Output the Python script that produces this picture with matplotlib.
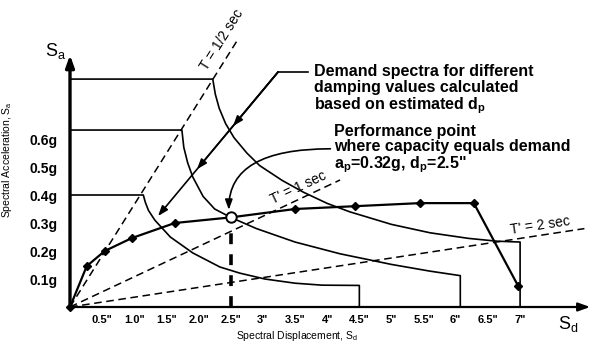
import numpy as np
import matplotlib.pyplot as plt

plt.rcParams['font.family'] = ['Liberation Sans', 'DejaVu Sans']
plt.rcParams['mathtext.fontset'] = 'custom'
plt.rcParams['mathtext.rm'] = 'Liberation Sans'
plt.rcParams['mathtext.bf'] = 'Liberation Sans:bold'
plt.rcParams['mathtext.it'] = 'Liberation Sans:italic'

# capacity curve in ADRS format (Sd in inches, Sa in g)
cap_sd = [0, 0.26, 0.54, 0.96, 1.63, 2.5, 3.5, 4.43, 5.44, 6.28, 6.97]
cap_sa = [0, 0.146, 0.20, 0.246, 0.30, 0.32, 0.35, 0.36, 0.371, 0.371, 0.075]

# performance point
perf_sd, perf_sa = 2.5, 0.32

# demand spectra for three damping levels
dem_hi_sd = [0, 2.22, 2.26, 2.32, 2.42, 2.55, 2.75, 2.95, 3.3, 3.63, 4.0,
             4.35, 5.0, 5.6, 6.2, 6.64, 7.0, 7.0]
dem_hi_sa = [0.814, 0.814, 0.76, 0.71, 0.655, 0.605, 0.55, 0.505, 0.452,
             0.41, 0.37, 0.34, 0.295, 0.265, 0.245, 0.235, 0.232, 0]
dem_mid_sd = [0, 1.74, 1.77, 1.83, 1.91, 2.07, 2.25, 2.5, 2.9, 3.5, 4.2,
              5.0, 5.6, 6.07, 6.07]
dem_mid_sa = [0.632, 0.632, 0.57, 0.515, 0.464, 0.395, 0.35, 0.32, 0.28,
              0.232, 0.19, 0.152, 0.128, 0.112, 0]
dem_lo_sd = [0, 1.14, 1.17, 1.22, 1.32, 1.56, 1.91, 2.33, 2.64, 3.03, 3.5,
             3.92, 4.5, 4.5]
dem_lo_sa = [0.40, 0.40, 0.375, 0.345, 0.31, 0.25, 0.193, 0.143, 0.121,
             0.10, 0.085, 0.078, 0.077, 0]

# constant period lines: Sa/Sd slope (g per inch) and how far each runs
period_text = ['T = 1/2 sec', "T' = 1 sec", "T' = 2 sec"]
period_slope = [0.366, 0.108, 0.035]
period_end_sd = [2.6, 4.2, 8.0]
period_text_pos = [(2.36, 0.955), (3.55, 0.428), (7.31, 0.291)]

sd_ticks = [0.5, 1.0, 1.5, 2.0, 2.5, 3, 3.5, 4, 4.5, 5, 5.5, 6, 6.5, 7]
sd_tick_labels = ['0.5"', '1.0"', '1.5"', '2.0"', '2.5"', '3"', '3.5"', '4"',
                  '4.5"', '5"', '5.5"', '6"', '6.5"', '7"']
sa_ticks = [0.1, 0.2, 0.3, 0.4, 0.5, 0.6]
sa_tick_labels = ['0.1g', '0.2g', '0.3g', '0.4g', '0.5g', '0.6g']

fig = plt.figure(figsize=(5.94, 3.42), dpi=100)
ax = fig.add_axes([70 / 594, 35 / 342, 524 / 594, 307 / 342])
ax.set_xlim(0, 524 / 64.3)
ax.set_ylim(0, 307 / 280)
for s in ax.spines.values():
    s.set_visible(False)

ax.set_xticks(sd_ticks)
ax.set_xticklabels(sd_tick_labels, fontsize=8, fontweight='bold')
ax.set_yticks(sa_ticks)
ax.set_yticklabels(sa_tick_labels, fontsize=10, fontweight='bold')
ax.tick_params(axis='x', length=0, pad=6)
ax.tick_params(axis='y', length=0, pad=9)

# axes drawn as arrows
ax.annotate('', xy=(0, 0.9), xytext=(0, 0), annotation_clip=False,
            arrowprops=dict(arrowstyle='-|>,head_length=0.7,head_width=0.25',
                            lw=2.4, color='k', shrinkA=0, shrinkB=0,
                            mutation_scale=10))
ax.annotate('', xy=(8.09, 0), xytext=(0, 0), annotation_clip=False,
            arrowprops=dict(arrowstyle='-|>,head_length=0.7,head_width=0.25',
                            lw=1.6, color='k', shrinkA=0, shrinkB=0,
                            mutation_scale=10))
ax.text(-0.23, 0.915, r'S$_\mathregular{a}$', fontsize=13, ha='center', va='center')
ax.text(7.75, -0.06, r'S$_\mathregular{d}$', fontsize=13, ha='center', va='center')

ax.set_ylabel(r'Spectral Acceleration, S$_\mathregular{a}$', fontsize=7.5)
ax.yaxis.set_label_coords(-0.107, 0.48)
ax.set_xlabel(r'Spectral Displacement, S$_\mathregular{d}$', fontsize=7.5)
ax.xaxis.set_label_coords(0.433, -0.071)

# period lines
for txt, k, end, pos in zip(period_text, period_slope, period_end_sd, period_text_pos):
    xs = np.array([0, end])
    ax.plot(xs, k * xs, color='k', lw=1.1, ls=(0, (5, 3)))
    p0 = ax.transData.transform((0, 0))
    p1 = ax.transData.transform((1, k))
    ang = np.degrees(np.arctan2(p1[1] - p0[1], p1[0] - p0[0]))
    ax.text(pos[0], pos[1], txt, fontsize=10, rotation=ang, ha='center',
            va='center', rotation_mode='anchor')

# demand spectra
for sd, sa in [(dem_hi_sd, dem_hi_sa), (dem_mid_sd, dem_mid_sa), (dem_lo_sd, dem_lo_sa)]:
    ax.plot(sd, sa, color='k', lw=1.2)

# capacity curve
perf_idx = cap_sd.index(perf_sd)
marks = [i for i in range(len(cap_sd)) if i != perf_idx]
ax.plot(cap_sd, cap_sa, color='k', lw=1.6, marker='D', markersize=4.5,
        markevery=marks, zorder=4, clip_on=False)

# drop line from the performance point
ax.plot([perf_sd, perf_sd], [0, perf_sa - 0.035], color='k', lw=2.6,
        ls=(0, (3, 2.8)), zorder=3)
ax.plot(perf_sd, perf_sa, marker='o', markersize=7.5, mfc='white',
        mec='k', mew=1.4, zorder=5)

head = dict(arrowstyle='-|>,head_length=0.6,head_width=0.22', color='k',
            lw=1.2, shrinkA=0, shrinkB=0, mutation_scale=10)

# leader for the demand spectra note: one straight line, arrowhead at each spectrum
lead_start = np.array([3.235, 0.839])
lead_end = np.array([1.369, 0.325])
ax.plot([lead_start[0], 3.70], [lead_start[1], lead_start[1]], color='k', lw=1.2)
for t in [0.375, 0.675, 1.0]:
    ax.annotate('', xy=lead_start + t * (lead_end - lead_start), xytext=lead_start,
                arrowprops=head)
ax.text(3.795, 0.775,
        'Demand spectra for different\ndamping values calculated\n'
        r'based on estimated d$_\mathbf{p}$',
        fontsize=11.5, fontweight='bold', ha='left', va='center', linespacing=1.05)

# leader for the performance point note
ax.annotate('', xy=(2.47, 0.347), xytext=(4.05, 0.565),
            arrowprops=dict(head, connectionstyle='angle3,angleA=0,angleB=90'))
ax.text(4.106, 0.562,
        'Performance point\nwhere capacity equals demand\n'
        r'a$_\mathbf{p}$=0.32g, d$_\mathbf{p}$=2.5"',
        fontsize=11.5, fontweight='bold', ha='left', va='center', linespacing=1.0)

fig.savefig('out.png', dpi=100)
